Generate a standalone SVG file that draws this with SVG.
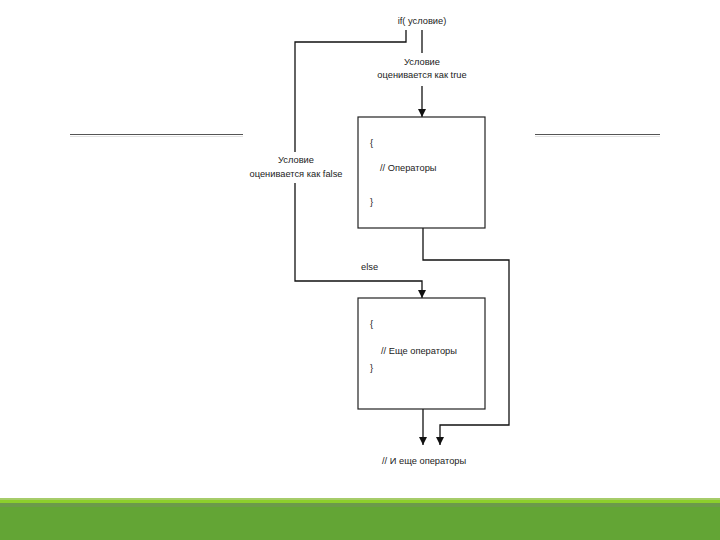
<svg xmlns="http://www.w3.org/2000/svg" width="720" height="540" viewBox="0 0 720 540">
<defs>
<marker id="ah" viewBox="0 0 8 10" refX="8" refY="5" markerWidth="8" markerHeight="10" markerUnits="userSpaceOnUse" orient="auto">
<path d="M0,1 L8,5 L0,9 Z" fill="#111"/>
</marker>
<style>
text{font-family:"Liberation Sans",Arial,sans-serif;font-size:9.3px;fill:#222}
.c{text-anchor:middle}
.ln{fill:none;stroke:#111;stroke-width:1.3}
.box{fill:#fff;stroke:#222;stroke-width:1.2}
</style>
</defs>
<rect width="720" height="540" fill="#fff"/>
<g id="decor">
<line x1="70" y1="134.5" x2="243" y2="134.5" stroke="#555" stroke-width="1"/>
<line x1="70" y1="136.5" x2="243" y2="136.5" stroke="#e2e2e2" stroke-width="1"/>
<line x1="535" y1="134.5" x2="660" y2="134.5" stroke="#555" stroke-width="1"/>
<line x1="535" y1="136.5" x2="660" y2="136.5" stroke="#e2e2e2" stroke-width="1"/>
<rect x="0" y="498" width="720" height="42" fill="#63a535"/>
<rect x="0" y="498" width="720" height="2" fill="#a6cc6a"/>
<rect x="0" y="500" width="720" height="3" fill="#8ccf2c"/>
<rect x="0" y="503" width="720" height="4" fill="#6b9a4a"/>
</g>
<g id="connectors">
<line class="ln" x1="422" y1="30" x2="422" y2="53"/>
<line class="ln" x1="422" y1="86" x2="422" y2="117" marker-end="url(#ah)"/>
<polyline class="ln" points="406,30 406,42 295,42 295,152"/>
<polyline class="ln" points="295,183 295,281 422,281 422,298" marker-end="url(#ah)"/>
<polyline class="ln" points="423,228 423,260 509,260 509,425 440,425 440,445" marker-end="url(#ah)"/>
<line class="ln" x1="423" y1="409" x2="423" y2="445" marker-end="url(#ah)"/>
</g>
<g id="start"><text class="c" x="422" y="24">if( условие)</text></g>
<g id="true-label"><text class="c" x="422" y="65">Условие</text><text class="c" x="422" y="78">оценивается как true</text></g>
<g id="false-label"><text class="c" x="296" y="163">Условие</text><text class="c" x="296" y="177">оценивается как false</text></g>
<g id="else-label"><text x="361" y="270">else</text></g>
<g id="box1">
<rect class="box" x="358" y="117" width="127" height="111"/>
<text x="370" y="146">{</text>
<text x="380" y="171">// Операторы</text>
<text x="370" y="205">}</text>
</g>
<g id="box2">
<rect class="box" x="358" y="298" width="127" height="111"/>
<text x="370" y="327">{</text>
<text x="381" y="354">// Еще операторы</text>
<text x="370" y="371">}</text>
</g>
<g id="end"><text x="382" y="464">// И еще операторы</text></g>
</svg>
